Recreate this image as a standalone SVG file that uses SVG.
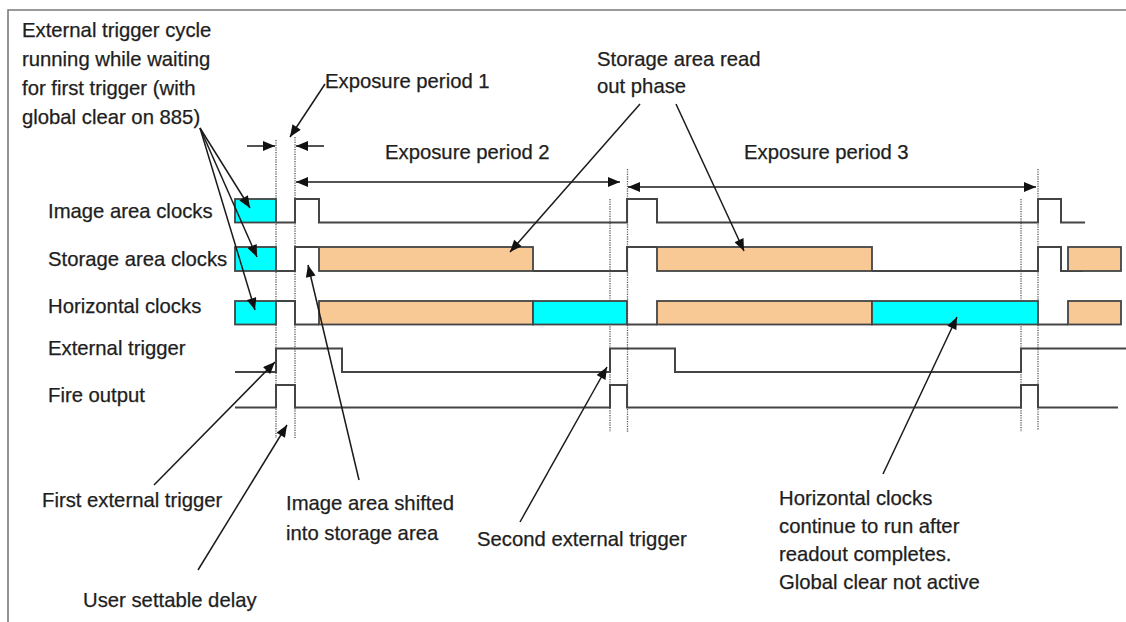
<svg xmlns="http://www.w3.org/2000/svg" width="1126" height="622" viewBox="0 0 1126 622">
<defs>
<marker id="ah" viewBox="0 0 12 10" refX="12" refY="5" markerWidth="13" markerHeight="10" markerUnits="userSpaceOnUse" orient="auto-start-reverse">
<path d="M0,0 L12,5 L0,10 Z" fill="#111"/>
</marker>
<style>
text{font-family:"Liberation Sans",Arial,sans-serif;font-size:20.3px;fill:#1e1e1e;stroke:#1e1e1e;stroke-width:0.25}
.sig{fill:none;stroke:#444;stroke-width:2;stroke-linejoin:miter}
.cy{fill:#00ffff;stroke:#444;stroke-width:1.8}
.or{fill:#f8c994;stroke:#444;stroke-width:1.8}
.dot{stroke:#555;stroke-width:1.3;stroke-dasharray:1.2 1.2;fill:none}
.ar{stroke:#1a1a1a;stroke-width:1.5;fill:none;marker-end:url(#ah)}
.dar{stroke:#1a1a1a;stroke-width:1.5;fill:none;marker-end:url(#ah);marker-start:url(#ah)}
.frame{stroke:#7a7a7a;stroke-width:1.6;fill:none}
</style>
</defs>
<rect width="1126" height="622" fill="#fff"/>
<path class="frame" d="M8,622 L8,10 L1126,10"/>

<g id="row-labels">
<text x="48" y="218">Image area clocks</text>
<text x="48" y="266">Storage area clocks</text>
<text x="48" y="313">Horizontal clocks</text>
<text x="48" y="355">External trigger</text>
<text x="48" y="402">Fire output</text>
</g>

<g id="guides">
<line class="dot" x1="276" y1="140" x2="276" y2="438"/>
<line class="dot" x1="295" y1="137" x2="295" y2="438"/>
<line class="dot" x1="610" y1="199" x2="610" y2="432"/>
<line class="dot" x1="627.5" y1="169" x2="627.5" y2="432"/>
<line class="dot" x1="1021" y1="199" x2="1021" y2="432"/>
<line class="dot" x1="1038" y1="169" x2="1038" y2="430"/>
</g>

<g id="image-area-clocks">
<rect class="cy" x="235" y="199" width="41" height="23.5"/>
<polyline class="sig" points="276,222.5 295,222.5 295,199 319,199 319,222.5 627,222.5 627,199 657,199 657,222.5 1038,222.5 1038,199 1061,199 1061,222.5 1085,222.5"/>
</g>

<g id="storage-area-clocks">
<rect class="cy" x="235" y="247" width="41" height="24"/>
<polyline class="sig" points="276,271 295,271 295,247 319,247"/>
<rect class="or" x="319" y="247" width="214" height="24"/>
<polyline class="sig" points="533,271 627,271 627,247 657,247"/>
<rect class="or" x="657" y="247" width="215" height="24"/>
<polyline class="sig" points="872,271 1038,271 1038,247 1061,247 1061,271 1083,271"/>
<rect class="or" x="1068" y="247" width="53" height="24"/>
</g>

<g id="horizontal-clocks">
<rect class="cy" x="235" y="301" width="41" height="23.5"/>
<polyline class="sig" points="276,301 295,301 295,324.5 319,324.5"/>
<rect class="or" x="319" y="301" width="214" height="23.5"/>
<rect class="cy" x="533" y="301" width="94" height="23.5"/>
<polyline class="sig" points="627,324.5 657,324.5"/>
<rect class="or" x="657" y="301" width="215" height="23.5"/>
<rect class="cy" x="872" y="301" width="166" height="23.5"/>
<polyline class="sig" points="1038,324.5 1068,324.5"/>
<rect class="or" x="1068" y="301" width="53" height="23.5"/>
</g>

<g id="external-trigger">
<polyline class="sig" points="235,372 276,372 276,348.5 342,348.5 342,372 610,372 610,348.5 675,348.5 675,372 1021,372 1021,348.5 1126,348.5"/>
</g>

<g id="fire-output">
<polyline class="sig" points="235,407.5 276,407.5 276,385 295,385 295,407.5 610,407.5 610,385 627,385 627,407.5 1021,407.5 1021,385 1038,385 1038,407.5 1118,407.5"/>
</g>

<g id="connectors">
<line class="ar" x1="200" y1="128" x2="250" y2="208"/>
<line class="ar" x1="200" y1="128" x2="257" y2="257"/>
<line class="ar" x1="200" y1="128" x2="255" y2="310"/>
<line class="ar" x1="325" y1="84" x2="290" y2="137"/>
<line class="ar" x1="640" y1="104" x2="510" y2="252"/>
<line class="ar" x1="676" y1="104" x2="744" y2="251"/>
<line class="ar" x1="154" y1="485" x2="275" y2="362"/>
<line class="ar" x1="198" y1="570" x2="287" y2="425"/>
<line class="ar" x1="359" y1="480" x2="308" y2="265"/>
<line class="ar" x1="520" y1="522" x2="607" y2="367"/>
<line class="ar" x1="883" y1="474" x2="957" y2="317"/>
<line class="ar" x1="247" y1="146" x2="275" y2="146"/>
<line class="ar" x1="324" y1="146" x2="296" y2="146"/>
<line class="dar" x1="296" y1="182" x2="620" y2="182"/>
<line class="dar" x1="628" y1="187" x2="1036" y2="187"/>
</g>

<g id="note-trigger-cycle">
<text x="22" y="37">External trigger cycle</text>
<text x="22" y="66">running while waiting</text>
<text x="22" y="95">for first trigger (with</text>
<text x="22" y="124">global clear on 885)</text>
</g>
<g id="note-exposure1"><text x="325" y="88">Exposure period 1</text></g>
<g id="note-storage-read">
<text x="597" y="66">Storage area read</text>
<text x="597" y="93">out phase</text>
</g>
<g id="note-exposure2"><text x="385" y="159">Exposure period 2</text></g>
<g id="note-exposure3"><text x="744" y="159">Exposure period 3</text></g>
<g id="note-first-trigger"><text x="42" y="507">First external trigger</text></g>
<g id="note-image-shift">
<text x="286" y="510">Image area shifted</text>
<text x="286" y="540">into storage area</text>
</g>
<g id="note-second-trigger"><text x="477" y="546">Second external trigger</text></g>
<g id="note-delay"><text x="83" y="607">User settable delay</text></g>
<g id="note-horizontal">
<text x="779" y="505">Horizontal clocks</text>
<text x="779" y="533">continue to run after</text>
<text x="779" y="561">readout completes.</text>
<text x="779" y="589">Global clear not active</text>
</g>
</svg>
